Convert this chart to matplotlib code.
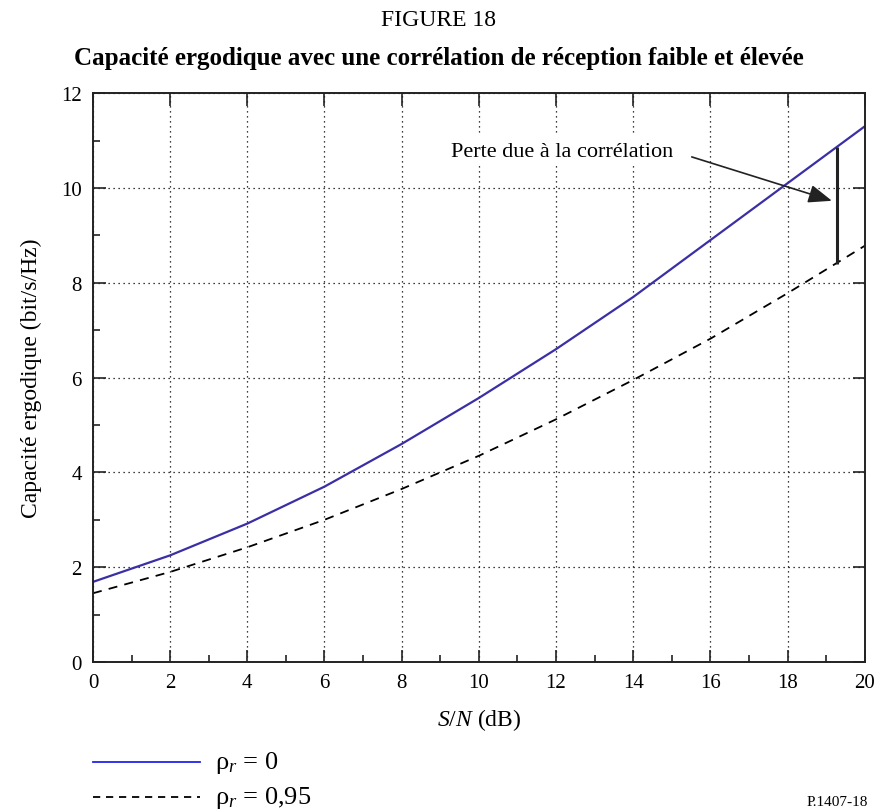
import matplotlib.pyplot as plt
from matplotlib.lines import Line2D
from matplotlib.ticker import MultipleLocator

plt.rcParams['font.family'] = ['Liberation Serif', 'DejaVu Serif']
plt.rcParams['mathtext.fontset'] = 'custom'
plt.rcParams['mathtext.rm'] = 'Liberation Serif'
plt.rcParams['mathtext.it'] = 'Liberation Serif:italic'

snr_db = [0, 2, 4, 6, 8, 10, 12, 14, 16, 18, 20]
cap_rho0 = [1.69, 2.25, 2.92, 3.70, 4.60, 5.57, 6.60, 7.70, 8.90, 10.10, 11.30]
cap_rho095 = [1.45, 1.90, 2.42, 3.00, 3.65, 4.35, 5.12, 5.95, 6.82, 7.78, 8.78]

# correlation loss marker
loss_x = 19.27
loss_lo = 8.40
loss_hi = 10.87

fig = plt.figure(figsize=(8.77, 8.12), dpi=100)
ax = fig.add_axes([0.106, 0.1835, 0.88, 0.7005])

blue = '#3a2fa5'
ax.plot(snr_db, cap_rho0, color=blue, lw=1.6)
ax.plot(snr_db, cap_rho095, color='black', lw=1.3, ls=(0, (5, 4)))

ax.vlines(loss_x, loss_lo, loss_hi, color='#222222', lw=2.2)
ax.annotate('Perte due à la corrélation', xy=(19.15, 9.73), xytext=(15.03, 10.78),
            fontsize=16, ha='right', va='center',
            bbox=dict(boxstyle='square,pad=0.25', fc='white', ec='none'),
            arrowprops=dict(arrowstyle='-|>,head_length=0.9,head_width=0.35',
                            color='#222222', lw=1.2, shrinkA=10, shrinkB=0,
                            relpos=(1.0, 0.5)))

ax.set_xlim(0, 20)
ax.set_ylim(0, 12)
ax.xaxis.set_major_locator(MultipleLocator(2))
ax.xaxis.set_minor_locator(MultipleLocator(1))
ax.yaxis.set_major_locator(MultipleLocator(2))
ax.yaxis.set_minor_locator(MultipleLocator(1))
ax.tick_params(which='both', direction='in', top=True, right=True, labelsize=15,
               width=1.2, color='#222222')
ax.tick_params(which='major', length=9, pad=8)
ax.tick_params(which='minor', length=5, top=False, right=False)
ax.grid(True, which='major', ls=(0, (1, 3)), color='black', lw=0.9)
for s in ax.spines.values():
    s.set_linewidth(1.4)
    s.set_color('#222222')

ax.set_xlabel('$S/N$ (dB)', fontsize=17, labelpad=10)
ax.set_ylabel('Capacité ergodique (bit/s/Hz)', fontsize=17, labelpad=14)

fig.text(0.5, 0.975, 'FIGURE 18', ha='center', va='center', fontsize=17)
fig.text(0.5, 0.928, 'Capacité ergodique avec une corrélation de réception faible et élevée',
         ha='center', va='center', fontsize=18, fontweight='bold')

# legend drawn below the axes
fig.add_artist(Line2D([0.106, 0.228], [0.06, 0.06], color='#2222ee', lw=1.3))
fig.add_artist(Line2D([0.106, 0.228], [0.017, 0.017], color='black', lw=1.3,
                      ls=(0, (4, 3.2))))
fig.text(0.245, 0.06, 'ρ$_r$ = 0', fontsize=19, va='center')
fig.text(0.245, 0.017, 'ρ$_r$ = 0,95', fontsize=19, va='center')
fig.text(0.99, 0.012, 'P.1407-18', fontsize=11, ha='right', va='center')

fig.savefig('out.png', dpi=100)
